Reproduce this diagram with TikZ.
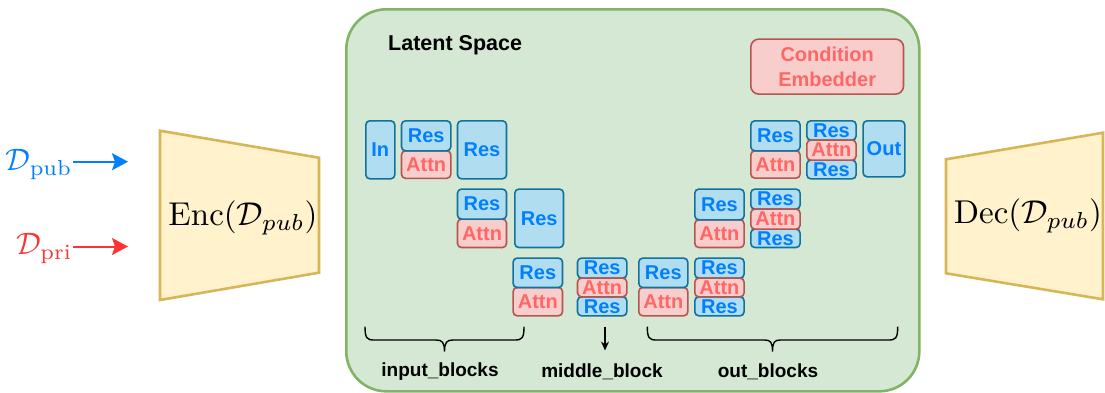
\documentclass[tikz,border=0pt]{standalone}
\usepackage{fontspec}
\setsansfont{Liberation Sans}
\usetikzlibrary{arrows.meta}
\definecolor{bfill}{HTML}{B1DDF0}
\definecolor{bstroke}{HTML}{10739E}
\definecolor{btxt}{HTML}{007FFF}
\definecolor{afill}{HTML}{F8CECC}
\definecolor{astroke}{HTML}{B85450}
\definecolor{atxt}{HTML}{FF6666}
\definecolor{gfill}{HTML}{D5E8D4}
\definecolor{gstroke}{HTML}{82B366}
\definecolor{yfill}{HTML}{FFF2CC}
\definecolor{ystroke}{HTML}{D6B656}
\definecolor{dblue}{HTML}{007FFF}
\definecolor{dred}{HTML}{FF3333}
\begin{document}
\begin{tikzpicture}[x=1pt,y=-1pt,
  blk/.style={draw=bstroke, fill=bfill, line width=1.6, rounded corners=4, inner sep=0pt,
    text=btxt, font=\sffamily\bfseries\fontsize{20}{21}\selectfont, anchor=north west},
  att/.style={blk, draw=astroke, fill=afill, text=atxt},
  trap/.style={draw=ystroke, fill=yfill, line width=2.6},
  mathlbl/.style={inner sep=0pt, font=\fontsize{10}{12}\selectfont, scale=3.3},
  dlbl/.style={inner sep=0pt, font=\fontsize{10}{12}\selectfont, scale=3.1, anchor=base east},
  inarrow/.style={line width=2, -{Stealth[length=16,width=17,inset=3]}},
  brc/.style={line width=1.4, black},
  blabel/.style={inner sep=0pt, font=\sffamily\bfseries\fontsize{19}{20}\selectfont}
]
\useasboundingbox (0,0) rectangle (1105,392);

% latent space panel
\node[draw=gstroke, fill=gfill, line width=2.6, rounded corners=40, minimum width=573,
  minimum height=382, anchor=north west, inner sep=0pt] (latent) at (345,8) {};
\node[inner sep=0pt, anchor=west, font=\sffamily\bfseries\fontsize{21.5}{24}\selectfont] (title) at (388,45) {Latent Space};

% encoder / decoder
\draw[trap] (160,130.7) -- (319,157.7) -- (319,272.7) -- (160,300) -- cycle;
\node[mathlbl] (enc) at (243,218) {$\mathrm{Enc}(\mathcal{D}_{pub})$};
\draw[trap] (946,159.3) -- (1103,132.7) -- (1103,299.3) -- (946,273.3) -- cycle;
\node[mathlbl] (dec) at (1028,216) {$\mathrm{Dec}(\mathcal{D}_{pub})$};

% inputs
\node[dlbl, text=dblue] (dpub) at (73,170.5) {$\mathcal{D}_{\mathrm{pub}}$};
\node[dlbl, text=dred] (dpri) at (73,254.5) {$\mathcal{D}_{\mathrm{pri}}$};
\coordinate (pubend) at (128,161.7);
\coordinate (priend) at (128,246.5);
\draw[inarrow, dblue] (dpub.east |- pubend) -- (pubend);
\draw[inarrow, dred] (dpri.east |- priend) -- (priend);

% condition embedder
\node[att, rounded corners=8, minimum width=152.7, minimum height=55, align=center,
  font=\sffamily\bfseries\fontsize{20}{25}\selectfont] (cond) at (750,38.3) {Condition\\Embedder};

% input blocks
\node[blk, minimum width=29, minimum height=58] (in) at (365,120) {In};
\node[att, minimum width=49.3, minimum height=27.5] (ia1) at (400.7,150) {Attn};
\node[blk, minimum width=49.3, minimum height=30] (ir1) at (400.7,120) {Res};
\node[blk, minimum width=49, minimum height=58] (ir2) at (456.7,120) {Res};
\node[att, minimum width=49, minimum height=28.4] (ia3) at (456.7,218.3) {Attn};
\node[blk, minimum width=49, minimum height=30] (ir3) at (456.7,188.3) {Res};
\node[blk, minimum width=48.7, minimum height=58.4] (ir4) at (514,188.3) {Res};
\node[att, minimum width=49.4, minimum height=28.3] (ia5) at (512.3,286.7) {Attn};
\node[blk, minimum width=49.4, minimum height=29.4] (ir5) at (512.3,257.3) {Res};

% middle block
\node[blk, minimum width=49.3, minimum height=20] (mr1) at (576.7,257.3) {Res};
\node[blk, minimum width=49.3, minimum height=19] (mr2) at (576.7,296) {Res};
\node[att, minimum width=49.3, minimum height=18.7] (ma) at (576.7,277.3) {Attn};

% out blocks, bottom row
\node[att, minimum width=49, minimum height=28.3] (oa1) at (638,286.7) {Attn};
\node[blk, minimum width=49, minimum height=29.4] (or1) at (638,257.3) {Res};
\node[blk, minimum width=49.3, minimum height=20] (ot1r) at (694,257.3) {Res};
\node[blk, minimum width=49.3, minimum height=19] (ot1s) at (694,296) {Res};
\node[att, minimum width=49.3, minimum height=18.7] (ot1a) at (694,277.3) {Attn};

% out blocks, middle row
\node[att, minimum width=49.3, minimum height=27.7] (oa2) at (694,219) {Attn};
\node[blk, minimum width=49.3, minimum height=30.7] (or2) at (694,188.3) {Res};
\node[blk, minimum width=49.3, minimum height=20] (ot2r) at (750,188.3) {Res};
\node[blk, minimum width=49.3, minimum height=18.4] (ot2s) at (750,228.3) {Res};
\node[att, minimum width=49.3, minimum height=20] (ot2a) at (750,208.3) {Attn};

% out blocks, top row
\node[att, minimum width=49.3, minimum height=27.3] (oa3) at (750,150) {Attn};
\node[blk, minimum width=49.3, minimum height=30] (or3) at (750,120) {Res};
\node[blk, minimum width=49.3, minimum height=19.3] (ot3r) at (806,120) {Res};
\node[blk, minimum width=49.3, minimum height=18.7] (ot3s) at (806,159.3) {Res};
\node[att, minimum width=49.3, minimum height=20] (ot3a) at (806,139.3) {Attn};
\node[blk, minimum width=41.7, minimum height=56] (out) at (862.3,120) {Out};

% braces
\draw[brc] (365,326.7) .. controls (365,338) and (367,340) .. (374,340) -- (436,340)
  .. controls (442,340) and (444.5,342) .. (444.5,351.7)
  .. controls (444.5,342) and (447,340) .. (453,340) -- (515,340)
  .. controls (522,340) and (524,338) .. (524,326.7);
\draw[brc] (647.3,326.7) .. controls (647.3,338) and (649.3,340) .. (656.3,340) -- (764.5,340)
  .. controls (770.5,340) and (772.5,342) .. (772.5,351.7)
  .. controls (772.5,342) and (774.5,340) .. (780.5,340) -- (888.7,340)
  .. controls (895.7,340) and (897.7,338) .. (897.7,326.7);
\coordinate (marrs) at (605,326.7);
\coordinate (marre) at (605,350.5);
\draw[brc, -{Stealth[length=9,width=8]}] (marrs) -- (marre);

% labels
\node[blabel] (lin) at (440,372) {input\_blocks};
\node[blabel] (lmid) at (602,372) {middle\_block};
\node[blabel] (lout) at (768,372) {out\_blocks};
\end{tikzpicture}
\end{document}
